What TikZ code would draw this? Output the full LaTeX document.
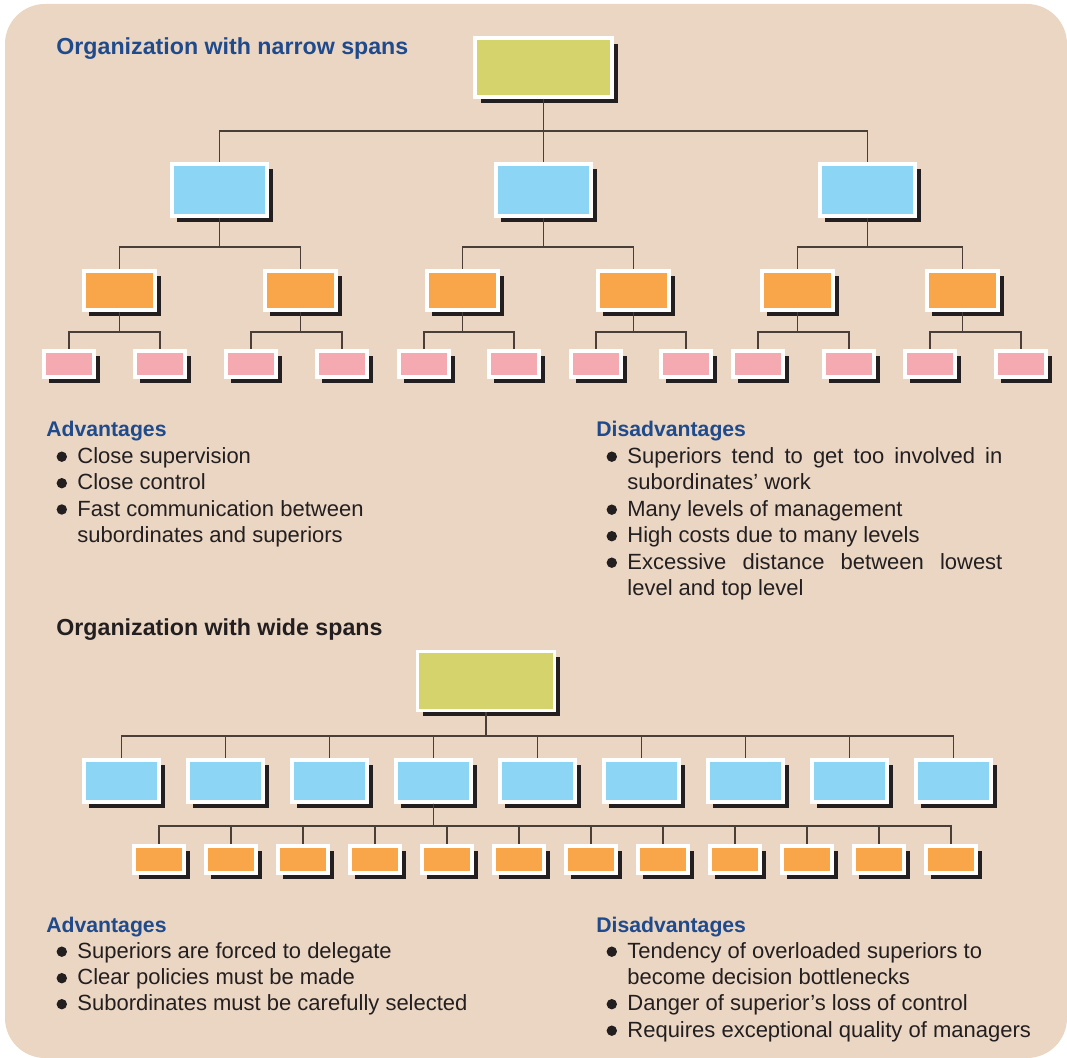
\documentclass[tikz,border=0pt]{standalone}
\usepackage{fontspec}
\setmainfont{Liberation Sans}
\usetikzlibrary{shadows}
\definecolor{paper}{HTML}{EAD6C3}
\definecolor{topc}{HTML}{D5D36B}
\definecolor{midc}{HTML}{8DD5F5}
\definecolor{lowc}{HTML}{F9A64A}
\definecolor{botc}{HTML}{F4AAB0}
\definecolor{navy}{HTML}{1F4A8C}
\definecolor{ink}{HTML}{231F20}
\definecolor{wirec}{HTML}{4A3F38}
\def\bul#1{\fill[ink] ([xshift=-7.6pt,yshift=3.4pt]#1.base west) circle (2.6pt);}
\tikzset{
  box/.style={draw=white,line width=1.8pt,inner sep=0pt,
    drop shadow={shadow xshift=2.8pt,shadow yshift=-2.8pt,opacity=1,fill=ink}},
  topbox/.style={box,fill=topc,minimum width=68.5pt,minimum height=29.5pt},
  midbox/.style={box,fill=midc,minimum width=47.7pt,minimum height=26.2pt},
  lowbox/.style={box,fill=lowc,minimum width=35.7pt,minimum height=19.7pt},
  botbox/.style={box,fill=botc,minimum width=25.2pt,minimum height=13.2pt},
  widebox/.style={box,fill=midc,minimum width=37.7pt,minimum height=21.2pt},
  smallbox/.style={box,fill=lowc,minimum width=25.2pt,minimum height=13.7pt},
  wire/.style={draw=wirec,line width=0.9pt},
  title/.style={anchor=base west,inner sep=0pt,font=\bfseries\fontsize{11.6}{13}\selectfont},
  head/.style={anchor=base west,inner sep=0pt,text=navy,font=\bfseries\fontsize{10.6}{13}\selectfont},
  item/.style={anchor=base west,inner sep=0pt,text=ink,font=\fontsize{11}{13}\selectfont}
}

\begin{document}
\begin{tikzpicture}[x=0.5pt,y=-0.5pt]
  \useasboundingbox (0,0) rectangle (1067,1058);
  \fill[paper,rounded corners=20pt] (5,4) rectangle (1067,1058);

  % narrow spans
  \node[title,text=navy] (t1) at (56,54.5) {Organization with narrow spans};
  \node[topbox] (n0) at (543.5,67.5) {};
  \node[midbox] (b1) at (219.5,190) {};
  \node[midbox] (b2) at (543.5,190) {};
  \node[midbox] (b3) at (867.5,190) {};
  \node[lowbox] (o1) at (119.5,290.5) {};
  \node[lowbox] (o2) at (300.5,290.5) {};
  \node[lowbox] (o3) at (462.5,290.5) {};
  \node[lowbox] (o4) at (633.5,290.5) {};
  \node[lowbox] (o5) at (797.5,290.5) {};
  \node[lowbox] (o6) at (962.5,290.5) {};
  \node[botbox] (p1) at (69,364) {};
  \node[botbox] (p2) at (160,364) {};
  \node[botbox] (p3) at (251,364) {};
  \node[botbox] (p4) at (342,364) {};
  \node[botbox] (p5) at (424,364) {};
  \node[botbox] (p6) at (514,364) {};
  \node[botbox] (p7) at (596,364) {};
  \node[botbox] (p8) at (686,364) {};
  \node[botbox] (p9) at (758,364) {};
  \node[botbox] (p10) at (849,364) {};
  \node[botbox] (p11) at (930,364) {};
  \node[botbox] (p12) at (1021,364) {};
  \draw[wire] (n0.south) -- ++(0,32) -| (b1.north);
  \draw[wire] (n0.south) -- (b2.north);
  \draw[wire] (n0.south) -- ++(0,32) -| (b3.north);
  \draw[wire] (b1.south) -- ++(0,29) -| (o1.north);
  \draw[wire] (b1.south) -- ++(0,29) -| (o2.north);
  \draw[wire] (b2.south) -- ++(0,29) -| (o3.north);
  \draw[wire] (b2.south) -- ++(0,29) -| (o4.north);
  \draw[wire] (b3.south) -- ++(0,29) -| (o5.north);
  \draw[wire] (b3.south) -- ++(0,29) -| (o6.north);
  \draw[wire] (o1.south) -- ++(0,20) -| (p1.north);
  \draw[wire] (o1.south) -- ++(0,20) -| (p2.north);
  \draw[wire] (o2.south) -- ++(0,20) -| (p3.north);
  \draw[wire] (o2.south) -- ++(0,20) -| (p4.north);
  \draw[wire] (o3.south) -- ++(0,20) -| (p5.north);
  \draw[wire] (o3.south) -- ++(0,20) -| (p6.north);
  \draw[wire] (o4.south) -- ++(0,20) -| (p7.north);
  \draw[wire] (o4.south) -- ++(0,20) -| (p8.north);
  \draw[wire] (o5.south) -- ++(0,20) -| (p9.north);
  \draw[wire] (o5.south) -- ++(0,20) -| (p10.north);
  \draw[wire] (o6.south) -- ++(0,20) -| (p11.north);
  \draw[wire] (o6.south) -- ++(0,20) -| (p12.north);

  \node[head] (na) at (46,437) {Advantages};
  \node[item] (na1) at (77,463.5) {Close supervision};
  \node[item] (na2) at (77,490) {Close control};
  \node[item] (na3) at (77,516.3) {Fast communication between};
  \node[item] (na3b) at (77,542.5) {subordinates and superiors};
  \bul{na1} \bul{na2} \bul{na3}
  \node[head] (nd) at (596,437) {Disadvantages};
  \node[item] (nd1) at (627,463.5) {\makebox[187.5pt][s]{Superiors tend to get too involved in}};
  \node[item] (nd1b) at (627,490) {subordinates’ work};
  \node[item] (nd2) at (627,516.5) {Many levels of management};
  \node[item] (nd3) at (627,543) {High costs due to many levels};
  \node[item] (nd4) at (627,569.5) {\makebox[187.5pt][s]{Excessive distance between lowest}};
  \node[item] (nd4b) at (627,596) {level and top level};
  \bul{nd1} \bul{nd2} \bul{nd3} \bul{nd4}

  % wide spans
  \node[title,text=ink] (t2) at (56,636) {Organization with wide spans};
  \node[topbox] (w0) at (486,681) {};
  \foreach \i in {1,...,9} {
    \node[widebox] (wb\i) at ({121.5+104*(\i-1)},781) {};
    \draw[wire] (w0.south) -- ++(0,24) -| (wb\i.north);
  }
  \foreach \j in {1,...,12} {
    \node[smallbox] (wo\j) at ({159+72*(\j-1)},859.5) {};
    \draw[wire] (wb4.south) -- ++(0,22) -| (wo\j.north);
  }

  \node[head] (wa) at (46,933) {Advantages};
  \node[item] (wa1) at (77,958.5) {Superiors are forced to delegate};
  \node[item] (wa2) at (77,985) {Clear policies must be made};
  \node[item] (wa3) at (77,1011) {Subordinates must be carefully selected};
  \bul{wa1} \bul{wa2} \bul{wa3}
  \node[head] (wd) at (596,933) {Disadvantages};
  \node[item] (wd1) at (627,958.5) {Tendency of overloaded superiors to};
  \node[item] (wd1b) at (627,985) {become decision bottlenecks};
  \node[item] (wd2) at (627,1011) {Danger of superior’s loss of control};
  \node[item] (wd3) at (627,1037.5) {Requires exceptional quality of managers};
  \bul{wd1} \bul{wd2} \bul{wd3}
\end{tikzpicture}
\end{document}
